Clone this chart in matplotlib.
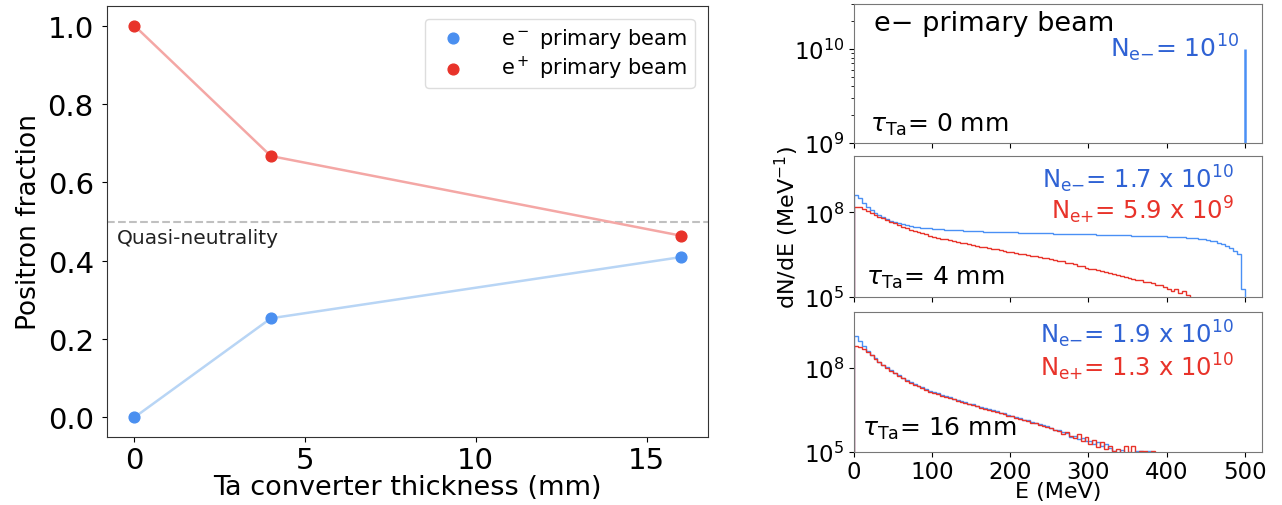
import numpy as np
import matplotlib
matplotlib.use("Agg")
import matplotlib.pyplot as plt

plt.rcParams['font.family'] = ['DejaVu Sans']
plt.rcParams['mathtext.fontset'] = 'dejavusans'

# ---------------- left panel data ----------------
thickness_mm = [0, 4, 16]
frac_eminus_beam = [0.0, 0.253, 0.409]
frac_eplus_beam = [1.0, 0.667, 0.464]
quasi_neutral_level = 0.5
left_xticks = [0, 5, 10, 15]
left_yticks = [0.0, 0.2, 0.4, 0.6, 0.8, 1.0]

# ---------------- right panels data ----------------
E_bin_width = 5.0  # MeV
# top panel: monoenergetic primary e- beam
E_primary = 500.0
N_primary_peak = 1e10

# middle panel (tau_Ta = 4 mm): log10(dN/dE) per 5 MeV bin starting at 0 MeV
mid_eminus_log10 = [
    8.62, 8.50, 8.34, 8.20, 8.08, 7.98, 7.90, 7.83, 7.77, 7.71,
    7.66, 7.61, 7.58, 7.55, 7.52, 7.50, 7.48, 7.46, 7.45, 7.43,
    7.42, 7.41, 7.40, 7.39, 7.38, 7.37, 7.37, 7.36, 7.35, 7.34,
    7.34, 7.33, 7.33, 7.32, 7.32, 7.31, 7.31, 7.30, 7.30, 7.29,
    7.29, 7.29, 7.28, 7.28, 7.28, 7.27, 7.27, 7.26, 7.26, 7.26,
    7.26, 7.25, 7.25, 7.25, 7.24, 7.24, 7.23, 7.23, 7.23, 7.23,
    7.22, 7.22, 7.21, 7.21, 7.21, 7.20, 7.20, 7.20, 7.19, 7.19,
    7.19, 7.18, 7.18, 7.18, 7.17, 7.17, 7.16, 7.16, 7.15, 7.15,
    7.14, 7.14, 7.13, 7.12, 7.11, 7.10, 7.09, 7.08, 7.06, 7.04,
    7.02, 7.00, 6.97, 6.93, 6.88, 6.80, 6.72, 6.62, 6.54, 5.29,
]
mid_eplus_log10 = [
    8.20, 8.20, 8.13, 8.05, 7.98, 7.91, 7.85, 7.79, 7.73, 7.67,
    7.61, 7.55, 7.49, 7.44, 7.39, 7.34, 7.30, 7.26, 7.22, 7.18,
    7.14, 7.10, 7.07, 7.04, 7.01, 6.98, 6.95, 6.92, 6.90, 6.87,
    6.84, 6.82, 6.79, 6.77, 6.74, 6.71, 6.69, 6.66, 6.64, 6.61,
    6.59, 6.57, 6.54, 6.52, 6.49, 6.47, 6.44, 6.42, 6.39, 6.37,
    6.33, 6.32, 6.28, 6.26, 6.21, 6.19, 6.16, 6.11, 6.09, 6.04,
    6.01, 5.99, 5.94, 5.92, 5.87, 5.85, 5.82, 5.77, 5.75, 5.70,
    5.68, 5.65, 5.60, 5.59, 5.54, 5.52, 5.49, 5.43, 5.41, 5.34,
    5.30, 5.22, 5.28, 5.14, 5.20, 5.06, 4.90,
]
# bottom panel (tau_Ta = 16 mm)
bot_eminus_log10 = [
    9.13, 8.95, 8.78, 8.62, 8.48, 8.35, 8.23, 8.12, 8.02, 7.92,
    7.83, 7.74, 7.66, 7.58, 7.51, 7.44, 7.37, 7.31, 7.25, 7.19,
    7.14, 7.09, 7.04, 6.99, 6.95, 6.90, 6.86, 6.82, 6.78, 6.73,
    6.70, 6.65, 6.62, 6.57, 6.54, 6.49, 6.46, 6.40, 6.38, 6.33,
    6.30, 6.24, 6.22, 6.16, 6.14, 6.07, 6.05, 6.00, 5.96, 5.92,
    5.86, 5.80, 5.77, 5.71, 5.68, 5.55, 5.57, 5.46, 5.50, 5.38,
    5.40, 5.30, 5.35, 5.22, 5.28, 5.15, 5.05, 4.90, 5.08, 4.80,
    4.90, 4.60, 5.05, 5.04, 4.70, 5.02, 4.50,
]
bot_eplus_log10 = [
    8.77, 8.76, 8.68, 8.58, 8.45, 8.33, 8.21, 8.10, 8.00, 7.90,
    7.81, 7.72, 7.63, 7.55, 7.48, 7.41, 7.34, 7.28, 7.22, 7.16,
    7.11, 7.06, 7.01, 6.97, 6.92, 6.88, 6.83, 6.79, 6.75, 6.71,
    6.67, 6.63, 6.58, 6.55, 6.50, 6.47, 6.43, 6.38, 6.36, 6.30,
    6.28, 6.22, 6.19, 6.14, 6.10, 6.05, 6.02, 5.97, 5.93, 5.88,
    5.85, 5.78, 5.74, 5.66, 5.70, 5.58, 5.50, 5.64, 5.38, 5.55,
    5.30, 5.42, 5.18, 5.35, 5.10, 5.22, 5.05, 5.12, 4.95, 5.22,
    5.00, 5.20, 4.80, 5.05, 5.04, 4.60, 5.03, 4.70,
]

N_labels_mid = [r"N$_{\mathrm{e}{-}}$= 1.7 x 10$^{10}$", r"N$_{\mathrm{e}{+}}$= 5.9 x 10$^{9}$"]
N_labels_bot = [r"N$_{\mathrm{e}{-}}$= 1.9 x 10$^{10}$", r"N$_{\mathrm{e}{+}}$= 1.3 x 10$^{10}$"]
N_label_top = r"N$_{\mathrm{e}{-}}$= 10$^{10}$"
tau_labels = [r"$\tau_{\mathrm{Ta}}$= 0 mm", r"$\tau_{\mathrm{Ta}}$= 4 mm", r"$\tau_{\mathrm{Ta}}$= 16 mm"]
right_xticks = [0, 100, 200, 300, 400, 500]

# ---------------- styling ----------------
BLUE_PT = '#4a8ff0'
RED_PT = '#e8332a'
BLUE_LN = '#b8d5f5'
RED_LN = '#f4a7a5'
BLUE_H = '#4a90f5'
RED_H = '#e8332a'
BLUE_TXT = '#2f62d4'
RED_TXT = '#e8332a'

W, H = 1282, 506
fig = plt.figure(figsize=(W / 100, H / 100), dpi=100)

def rect(x0, y0, x1, y1):
    return [x0 / W, 1 - y1 / H, (x1 - x0) / W, (y1 - y0) / H]

# ---------------- left axes ----------------
axL = fig.add_axes(rect(107, 7, 708, 438))
axL.plot(thickness_mm, frac_eminus_beam, color=BLUE_LN, lw=1.8, zorder=2)
axL.plot(thickness_mm, frac_eplus_beam, color=RED_LN, lw=1.8, zorder=2)
axL.scatter(thickness_mm, frac_eminus_beam, s=60, color=BLUE_PT, zorder=3,
            label=r"e$^-$ primary beam")
axL.scatter(thickness_mm, frac_eplus_beam, s=60, color=RED_PT, zorder=3,
            label=r"e$^+$ primary beam")
axL.axhline(quasi_neutral_level, color='#c0c0c0', ls='--', lw=1.5, zorder=1)
axL.text(0.017, quasi_neutral_level - 0.016, "Quasi-neutrality", transform=axL.get_yaxis_transform(),
         fontsize=14.5, va='top', ha='left', color='#222')
axL.set_xticks(left_xticks)
axL.set_yticks(left_yticks)
axL.tick_params(axis='y', labelsize=21, pad=6)
axL.tick_params(axis='x', labelsize=21, pad=3)
axL.set_xlabel("Ta converter thickness (mm)", fontsize=19.5, labelpad=0)
axL.set_ylabel("Positron fraction", fontsize=19, labelpad=4)
axL.legend(loc='upper right', fontsize=15, handletextpad=1.3, borderpad=0.35,
           labelspacing=0.18, framealpha=1, edgecolor='#dddddd',
           bbox_to_anchor=(0.995, 0.995))
for sp in axL.spines.values():
    sp.set_color('#333333')

# ---------------- right axes ----------------
axT = fig.add_axes(rect(854, 5, 1262, 144))
axM = fig.add_axes(rect(854, 157, 1262, 298), sharex=axT)
axB = fig.add_axes(rect(854, 313, 1262, 453), sharex=axT)

def edges_for(vals):
    return np.arange(len(vals) + 1) * E_bin_width

axT.vlines(E_primary, 1e8, N_primary_peak, color=BLUE_H, lw=1.8)
axT.set_yscale('log')
axT.set_ylim(1e9, 3e10)

for ax, blue, red in [(axM, mid_eminus_log10, mid_eplus_log10),
                      (axB, bot_eminus_log10, bot_eplus_log10)]:
    ax.stairs(10.0 ** np.array(blue), edges_for(blue), baseline=1.0, color=BLUE_H, lw=1.0)
    ax.stairs(10.0 ** np.array(red), edges_for(red), baseline=1.0, color=RED_H, lw=1.0)
    ax.set_yscale('log')
    ax.set_ylim(1e5, 1e10)
    ax.set_yticks([1e5, 1e8])
    ax.yaxis.set_minor_locator(matplotlib.ticker.NullLocator())

axT.set_xlim(0, 522)
axT.set_xticks(right_xticks)
for ax in (axT, axM, axB):
    ax.tick_params(labelsize=16.5)
    for sp in ax.spines.values():
        sp.set_color('#777777')
for ax in (axT, axM):
    ax.tick_params(labelbottom=False)
axB.tick_params(axis='x', pad=2, labelsize=16.5)

axB.set_xlabel("E (MeV)", fontsize=16, labelpad=-1)
axM.set_ylabel(r"dN/dE (MeV$^{-1}$)", fontsize=16, labelpad=2)

# annotations
axT.text(0.05, 0.96, "e\u2212 primary beam", transform=axT.transAxes, fontsize=19.5,
         va='top', ha='left', zorder=5)
axT.text(0.945, 0.69, N_label_top, transform=axT.transAxes, fontsize=18,
         va='center', ha='right', color=BLUE_TXT)
axT.text(0.04, 0.14, tau_labels[0], transform=axT.transAxes, fontsize=18,
         va='center', ha='left')

axM.text(0.93, 0.845, N_labels_mid[0], transform=axM.transAxes, fontsize=17.5,
         va='center', ha='right', color=BLUE_TXT)
axM.text(0.93, 0.62, N_labels_mid[1], transform=axM.transAxes, fontsize=17.5,
         va='center', ha='right', color=RED_TXT)
axM.text(0.03, 0.14, tau_labels[1], transform=axM.transAxes, fontsize=18,
         va='center', ha='left')

axB.text(0.93, 0.845, N_labels_bot[0], transform=axB.transAxes, fontsize=17.5,
         va='center', ha='right', color=BLUE_TXT)
axB.text(0.93, 0.615, N_labels_bot[1], transform=axB.transAxes, fontsize=17.5,
         va='center', ha='right', color=RED_TXT)
axB.text(0.02, 0.17, tau_labels[2], transform=axB.transAxes, fontsize=18,
         va='center', ha='left')

fig.savefig("out.png", dpi=100)
